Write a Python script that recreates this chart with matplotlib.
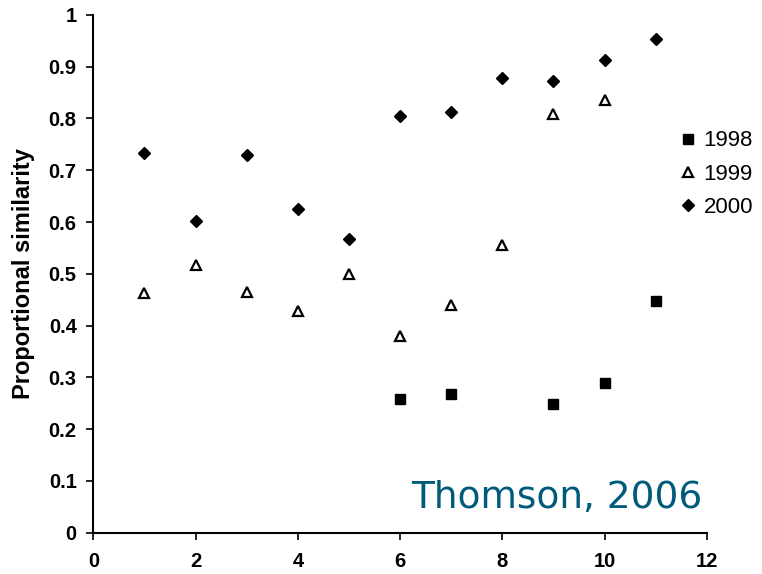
import matplotlib
matplotlib.use("Agg")
import matplotlib.pyplot as plt

x1998 = [6, 7, 9, 10, 11]
y1998 = [0.259, 0.268, 0.249, 0.290, 0.448]
x1999 = [1, 2, 3, 4, 5, 6, 7, 8, 9, 10]
y1999 = [0.463, 0.517, 0.464, 0.429, 0.499, 0.379, 0.440, 0.556, 0.808, 0.835]
x2000 = [1, 2, 3, 4, 5, 6, 7, 8, 9, 10, 11]
y2000 = [0.733, 0.602, 0.730, 0.625, 0.567, 0.804, 0.813, 0.879, 0.872, 0.913, 0.954]
xticks = [0, 2, 4, 6, 8, 10, 12]
yticks = [0, 0.1, 0.2, 0.3, 0.4, 0.5, 0.6, 0.7, 0.8, 0.9, 1]
ytick_labels = ["0", "0.1", "0.2", "0.3", "0.4", "0.5", "0.6", "0.7", "0.8", "0.9", "1"]

plt.rcParams['font.family'] = ['Liberation Sans', 'DejaVu Sans']

fig = plt.figure(figsize=(7.62, 5.74), dpi=100)
ax = fig.add_axes([0.1225, 0.072, 0.805, 0.902])

ax.plot(x1998, y1998, linestyle='none', marker='s', markersize=7.5, color='black', label='1998')
ax.plot(x1999, y1999, linestyle='none', marker='^', markersize=6.8, markerfacecolor='white',
        markeredgecolor='black', markeredgewidth=1.6, label='1999')
ax.plot(x2000, y2000, linestyle='none', marker='D', markersize=6.0, color='black', label='2000')

ax.set_xlim(0, 12)
ax.set_ylim(0, 1)
ax.set_xticks(xticks)
ax.set_xticklabels([str(v) for v in xticks])
ax.set_yticks(yticks)
ax.set_yticklabels(ytick_labels)
for s in ['top', 'right']:
    ax.spines[s].set_visible(False)
for s in ['left', 'bottom']:
    ax.spines[s].set_linewidth(1.5)
ax.tick_params(axis='both', direction='out', length=5, width=1.2, labelsize=14.5)
ax.tick_params(axis='x', pad=9)
ax.tick_params(axis='y', pad=7)
for lab in ax.get_xticklabels() + ax.get_yticklabels():
    lab.set_fontweight('bold')

ax.set_ylabel('Proportional similarity', fontsize=17, fontweight='bold', labelpad=10)

leg = fig.legend(loc='upper left', bbox_to_anchor=(0.894, 0.773), frameon=False,
                 fontsize=16, handlelength=0.6, handletextpad=0.4, labelspacing=0.56,
                 borderpad=0, borderaxespad=0)

fig.text(0.731, 0.132, 'Thomson, 2006', fontsize=27, color='#005a7a',
         family='DejaVu Sans', ha='center', va='center')

fig.savefig('out.png', dpi=100)
